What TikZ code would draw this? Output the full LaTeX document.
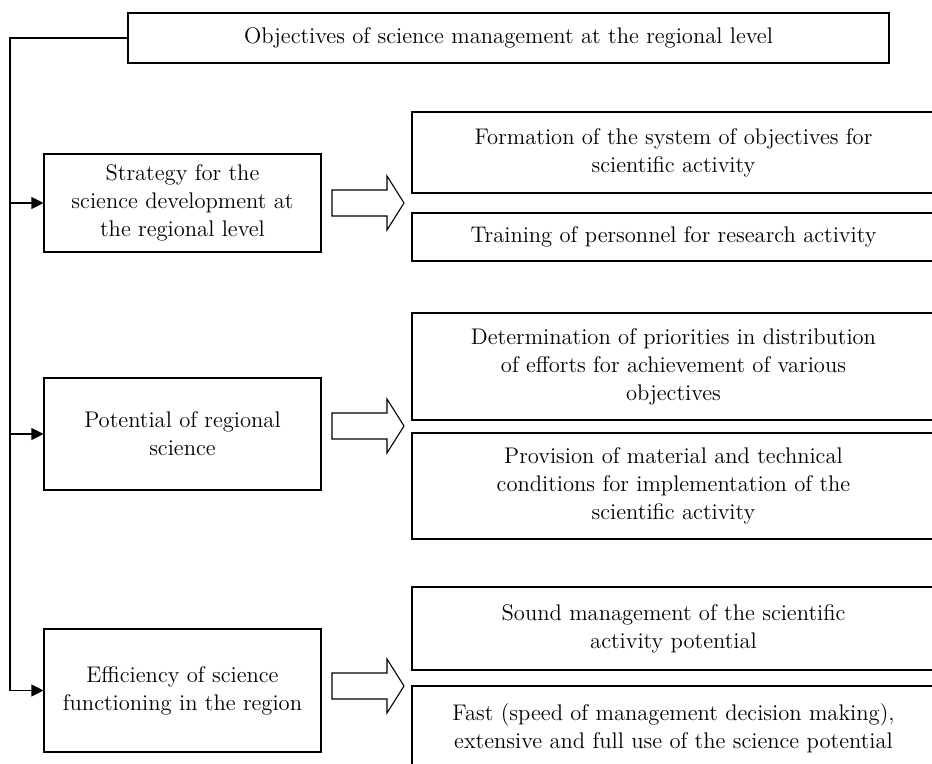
\documentclass[tikz,border=0pt]{standalone}
\usetikzlibrary{arrows.meta}
\tikzset{
  box/.style={draw, line width=0.55pt, align=center, inner sep=0pt,
    font=\fontsize{11.3}{14}\selectfont},
  feed/.style={-{Triangle[length=6pt,width=6pt]}, line width=0.55pt},
  fat/.style={draw, line width=0.55pt, line join=miter}
}
\begin{document}
\begin{tikzpicture}[x=0.5pt,y=-0.5pt]
      \useasboundingbox (0,0) rectangle (932,764);
      % head of the scheme
      \node[box, minimum width=380.5pt, minimum height=25pt] (goal) at (508.5,38)
        {Objectives of science management at the regional level};
      % left column
      \node[box, minimum width=138.5pt, minimum height=49pt] (strat) at (182.5,203)
        {Strategy for the\\science development at\\the regional level};
      \node[box, minimum width=138.5pt, minimum height=56pt] (potent) at (182.5,434)
        {Potential of regional\\science};
      \node[box, minimum width=138.5pt, minimum height=61.5pt] (effic) at (182.5,690.5)
        {Efficiency of science\\functioning in the region};
      % right column
      \node[box, minimum width=261.5pt, minimum height=40.5pt] (form) at (673.5,152.5)
        {Formation of the system of objectives for\\scientific activity};
      \node[box, minimum width=261.5pt, minimum height=24pt] (train) at (673.5,237)
        {Training of personnel for research activity};
      \node[box, minimum width=261.5pt, minimum height=53.5pt] (prior) at (673.5,366.5)
        {Determination of priorities in distribution\\of efforts for achievement of various\\objectives};
      \node[box, minimum width=261.5pt, minimum height=53pt] (supply) at (673.5,486)
        {Provision of material and technical\\conditions for implementation of the\\scientific activity};
      \node[box, minimum width=261.5pt, minimum height=41.5pt] (sound) at (673.5,628.5)
        {Sound management of the scientific\\activity potential};
      \node[box, minimum width=261.5pt, minimum height=42pt] (fast) at (673.5,728)
        {Fast (speed of management decision making),\\extensive and full use of the science potential};
      % spine on the left
      \coordinate (corner) at (10,38);
      \coordinate (foot) at (10,690.5);
      \draw[line width=0.55pt] (goal.west) -- (corner) -- (foot);
      \draw[feed] (corner |- strat.west) -- (strat.west);
      \draw[feed] (corner |- potent.west) -- (potent.west);
      \draw[feed] (foot) -- (effic.west);
      % block arrows
      \foreach \y in {203,426,686}
        \draw[fat] (332,\y-13) -- (387,\y-13) -- (387,\y-27) -- (404,\y)
          -- (387,\y+27) -- (387,\y+13) -- (332,\y+13) -- cycle;
\end{tikzpicture}
\end{document}
